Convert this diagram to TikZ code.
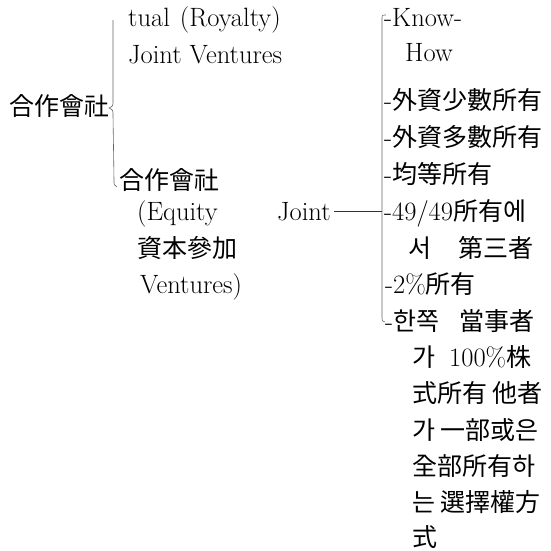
\documentclass[tikz,border=0pt]{standalone}
\usepackage{fontspec}
\newfontfamily\cjkfont{Noto Sans CJK KR}
\newcommand\ck[1]{{\cjkfont\fontsize{25}{30}\selectfont #1}}
\begin{document}
\begin{tikzpicture}[x=1pt,y=-1pt,
  txt/.style={anchor=base west, inner sep=0pt, font=\fontsize{26.5}{30}\selectfont},
  brk/.style={draw=black!60, line width=0.6pt},
  link/.style={draw=black!80, line width=0.8pt}]
\useasboundingbox (0,0) rectangle (551,550);
% left column
\node[txt] (hq) at (9,115) {\ck{合作會社}};
\node[txt] (r1) at (128,26) {tual\hspace{2pt} (Royalty)};
\node[txt] (r2) at (128,63) {Joint Ventures};
\node[txt] (e0) at (119,189) {\ck{合作會社}};
\node[txt] (e1) at (137,220) {(Equity};
\node[txt] (jt) at (277,220) {Joint};
\node[txt] (e2) at (137,257) {\ck{資本參加}};
\node[txt] (e3) at (140,293) {Ventures)};
% right column
\node[txt] (k1) at (384,26) {-Know-};
\node[txt] (k2) at (405,61) {How};
\node[txt] (a1) at (384,109) {-\ck{外資少數所有}};
\node[txt] (a2) at (384,146) {-\ck{外資多數所有}};
\node[txt] (a3) at (384,183) {-\ck{均等所有}};
\node[txt] (a4) at (384,220) {-49/49\ck{所有에}};
\node[txt] (a4b) at (408,257) {\ck{서}\hspace{27pt}\ck{第三者}};
\node[txt] (a5) at (385,293) {-2\%\ck{所有}};
\node[txt] (a6) at (385,330) {-\ck{한쪽}\hspace{20pt}\ck{當事者}};
\node[txt] (a6b) at (412,366) {\ck{가}\hspace{14pt}100\%\ck{株}};
\node[txt] (l3) at (412,402) {\ck{式所有 他者}};
\node[txt] (l4) at (412,439) {\ck{가 一部或은}};
\node[txt] (l5) at (412,475) {\ck{全部所有하}};
\node[txt] (l6) at (412,511) {\ck{는 選擇權方}};
\node[txt] (l7) at (412,546) {\ck{式}};
% brackets
\coordinate (lt) at (113,20);
\coordinate (ltip) at (109,108);
\coordinate (lb) at (117,187);
\draw[brk] (lt) -- (113,101) .. controls (113,106) .. (ltip) .. controls (113,110) .. (113,115) -- (114,180) .. controls (114,185) .. (lb);
\coordinate (rt) at (386,15);
\coordinate (rb) at (385,322);
\draw[brk] (rt) .. controls (382,15) .. (382,19) -- (382,318) .. controls (382,321) .. (rb);
\coordinate (rj) at (382,212);
\draw[link] ([xshift=3pt]jt.east) -- (jt.east -| rj);
\end{tikzpicture}
\end{document}
